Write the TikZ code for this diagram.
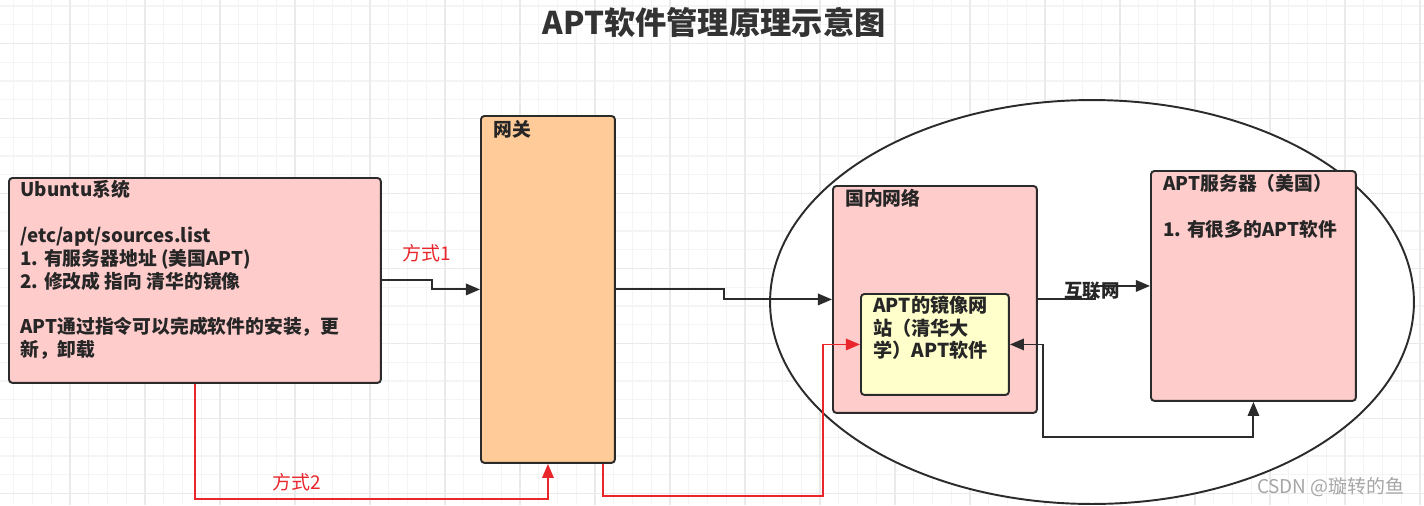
\documentclass[tikz,border=0pt]{standalone}
\usepackage{fontspec}
\usepackage{xcolor}
\usepackage{tikz}
\usetikzlibrary{calc,positioning,arrows.meta,shapes}
\newfontfamily\cjk{Noto Sans CJK SC}
\definecolor{boxpink}{HTML}{FFCCCC}
\definecolor{boxorange}{HTML}{FFCC99}
\definecolor{boxyellow}{HTML}{FFFFCC}
\definecolor{edge}{HTML}{2B2B2B}
\definecolor{wayred}{HTML}{E8262B}
\definecolor{gridminor}{HTML}{F4F4F4}
\definecolor{gridmajor}{HTML}{EAEAEA}
\tikzstyle{box}       = [rectangle, rounded corners=2pt, draw=edge, line width=1.1pt, anchor=north west, inner sep=0pt]
\tikzstyle{boxtext}   = [anchor=north west, align=left, inner sep=0pt, text=black!85, font=\cjk\bfseries\fontsize{10.7}{13}\selectfont]
\tikzstyle{arrow}     = [line width=1.1pt, draw=edge, -{Triangle[length=8pt,width=6.5pt]}]
\tikzstyle{redarrow}  = [line width=1.1pt, draw=wayred, -{Triangle[length=8pt,width=6.5pt]}]
\tikzstyle{waylabel}  = [text=wayred, font=\cjk\fontsize{10.8}{12}\selectfont]

\begin{document}
\begin{tikzpicture}[x=0.02cm,y=-0.02cm]
    \useasboundingbox (0,0) rectangle (1424,505);
    \clip (0,0) rectangle (1424,505);
    % background grid
    \foreach \gx in {-5,13.75,...,1430} \draw[gridminor, line width=0.6pt] (\gx,0) -- (\gx,505);
    \foreach \gy in {6,24.75,...,510} \draw[gridminor, line width=0.6pt] (0,\gy) -- (1424,\gy);
    \foreach \gx in {-5,70,...,1430} \draw[gridmajor, line width=0.9pt] (\gx,0) -- (\gx,505);
    \foreach \gy in {43.3,118.3,...,510} \draw[gridmajor, line width=0.9pt] (0,\gy) -- (1424,\gy);

    \node[font=\cjk\bfseries\fontsize{17.8}{22}\selectfont, text=black!80] (title) at (714,22) {APT软件管理原理示意图};

    % outer world
    \node[ellipse, draw=edge, fill=white, line width=1.1pt, minimum width=12.88cm, minimum height=8.08cm] (world) at (1092,302) {};

    % boxes
    \node[box, fill=boxpink, minimum width=7.44cm, minimum height=4.1cm] (ubuntu) at (8,177) {};
    \node[boxtext] (ubuntutext) at ([shift={(12,3)}]ubuntu.north west) {Ubuntu系统\\ \mbox{}\\ /etc/apt/sources.list\\ 1. 有服务器地址 (美国APT)\\ 2. 修改成 指向 清华的镜像\\ \mbox{}\\ APT通过指令可以完成软件的安装，更\\ 新，卸载};

    \node[box, fill=boxorange, minimum width=2.68cm, minimum height=6.94cm] (gateway) at (480,115) {};
    \node[boxtext] (gatewaytext) at ([shift={(13,5)}]gateway.north west) {网关};

    \node[box, fill=boxpink, minimum width=4.08cm, minimum height=4.54cm] (domestic) at (832,185) {};
    \node[boxtext] (domestictext) at ([shift={(13,4)}]domestic.north west) {国内网络};

    \node[box, fill=boxyellow, minimum width=2.96cm, minimum height=2.02cm] (mirror) at (860,293) {};
    \node[boxtext, font=\cjk\bfseries\fontsize{10.9}{12.8}\selectfont] (mirrortext) at ([shift={(13,3)}]mirror.north west) {APT的镜像网\\ 站（清华大\\ 学）APT软件};

    \node[box, fill=boxpink, minimum width=4.1cm, minimum height=4.6cm] (server) at (1150,170) {};
    \node[boxtext] (servertext) at ([shift={(13,4)}]server.north west) {APT服务器（美国）\\ \mbox{}\\ 1. 有很多的APT软件};

    % connectors
    \draw[arrow] (ubuntu.east) -- ++(50,0) |- (gateway.west);
    \node[waylabel] (way1) at (427,253) {方式1};
    \draw[arrow] (gateway.east) -- ++(108,0) |- (domestic.west);
    \draw[arrow] (domestic.east) -- ++(57,0) |- (server.west);
    \node[font=\cjk\bfseries\fontsize{10.5}{12}\selectfont, text=black!85, inner sep=0pt] (netlabel) at (1092,291) {互联网};
    \coordinate (loopturn) at (1043,437);
    \draw[arrow, {Triangle[length=8pt,width=6.5pt]}-{Triangle[length=8pt,width=6.5pt]}] (mirror.east) -| (loopturn) -| (server.south);

    \draw[redarrow] (ubuntu.south) -- ++(0,115) -| (gateway.south);
    \node[waylabel] (way2) at (297,482) {方式2};
    \coordinate (redturn) at (823,496);
    \draw[redarrow] ([xshift=-0.26cm]gateway.south east) |- (redturn) |- (mirror.west);

    \node[anchor=east, text=black!35, font=\cjk\fontsize{10.8}{12}\selectfont] (mark) at (1411,487) {CSDN @璇转的鱼};
\end{tikzpicture}
\end{document}
